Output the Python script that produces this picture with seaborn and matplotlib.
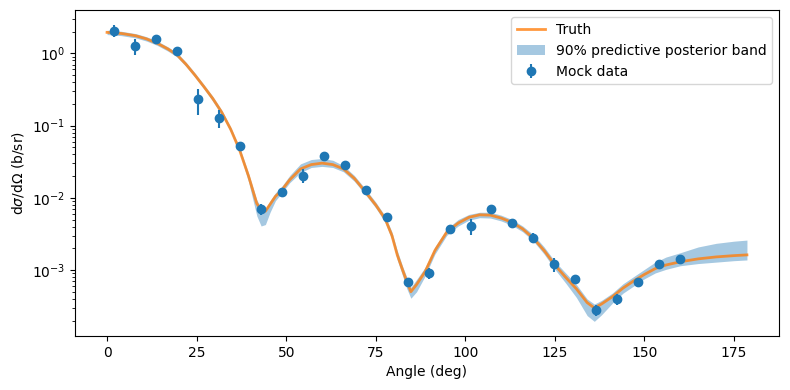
import numpy as np
import pandas as pd
import seaborn as sns
import matplotlib
matplotlib.use("Agg")
import matplotlib.pyplot as plt

# mock data (angle in deg, cross section in b/sr, 1-sigma error)
angle_data = [2.0, 7.9, 13.7, 19.6, 25.4, 31.3, 37.1, 43.0, 48.8, 54.7, 60.5, 66.4, 72.2, 78.1,
              83.9, 89.8, 95.6, 101.5, 107.3, 113.1, 119.0, 124.8, 130.7, 136.5, 142.4, 148.2, 154.1, 159.9]
xs_data = [2.07, 1.27, 1.57, 1.07, 0.231, 0.127, 0.052, 0.0070, 0.0122, 0.0203, 0.0377, 0.0283, 0.0130, 0.0054,
           6.9e-4, 9.1e-4, 3.73e-3, 4.02e-3, 6.92e-3, 4.53e-3, 2.80e-3, 1.22e-3, 7.55e-4, 2.8e-4,
           3.98e-4, 6.86e-4, 1.23e-3, 1.43e-3]
err_data = [0.4, 0.32, 0.15, 0.1, 0.09, 0.035, 0.006, 0.0012, 0.0015, 0.0045, 0.004, 0.003, 0.0015, 0.0005,
            0.8e-4, 1.5e-4, 0.5e-3, 1.0e-3, 0.7e-3, 0.6e-3, 0.45e-3, 0.27e-3, 0.5e-4, 0.5e-4,
            0.7e-4, 1.0e-4, 1.0e-4, 2.0e-4]

# truth curve and 90% band, stored as log10 of the cross section
angle_curve = [0, 4, 8, 11, 14, 17, 19.5, 22, 24.5, 27, 29.5, 32, 34.5, 37, 39.5, 41.8, 43, 44.2, 45.5, 47,
               48.5, 51, 54, 57, 60, 63, 66, 69, 72, 75, 77.6, 79.5, 81, 82.5, 83.6, 84.8, 86.4, 88.8, 91.5,
               94.8, 98, 101, 104, 107, 110, 113, 116, 119, 122, 125, 128, 131, 134, 136, 138, 141, 144, 147,
               150, 153, 156, 160, 165, 170, 175, 178.6]
truth_log = [0.29, 0.275, 0.243, 0.2, 0.14, 0.06, -0.02, -0.15, -0.30, -0.46, -0.625, -0.815, -1.05, -1.34,
             -1.70, -2.08, -2.16, -2.185, -2.09, -1.98, -1.91, -1.75, -1.60, -1.54, -1.52, -1.54, -1.60,
             -1.73, -1.91, -2.10, -2.29, -2.52, -2.79, -3.0, -3.15, -3.30, -3.2, -3.02, -2.73, -2.475,
             -2.35, -2.27, -2.235, -2.24, -2.28, -2.34, -2.43, -2.56, -2.73, -2.93, -3.10, -3.26, -3.45,
             -3.525, -3.47, -3.37, -3.25, -3.15, -3.06, -2.98, -2.93, -2.885, -2.845, -2.818, -2.80, -2.79]
band_lo_log = [0.26, 0.245, 0.213, 0.17, 0.11, 0.03, -0.05, -0.18, -0.33, -0.49, -0.665, -0.855, -1.09, -1.38,
               -1.78, -2.25, -2.39, -2.37, -2.2, -2.04, -1.95, -1.79, -1.65, -1.58, -1.565, -1.58, -1.64,
               -1.77, -1.95, -2.14, -2.34, -2.58, -2.86, -3.08, -3.25, -3.39, -3.3, -3.08, -2.78, -2.52,
               -2.39, -2.31, -2.275, -2.28, -2.32, -2.38, -2.47, -2.60, -2.78, -2.99, -3.18, -3.38, -3.63,
               -3.71, -3.62, -3.46, -3.32, -3.22, -3.12, -3.04, -2.99, -2.94, -2.91, -2.89, -2.87, -2.86]
band_hi_log = [0.32, 0.305, 0.273, 0.23, 0.17, 0.09, 0.01, -0.12, -0.27, -0.43, -0.595, -0.785, -1.02, -1.30,
               -1.66, -2.03, -2.13, -2.15, -2.04, -1.93, -1.86, -1.69, -1.53, -1.47, -1.455, -1.48, -1.555,
               -1.69, -1.87, -2.06, -2.25, -2.47, -2.73, -2.95, -3.09, -3.24, -3.13, -2.96, -2.68, -2.43,
               -2.30, -2.23, -2.20, -2.20, -2.24, -2.30, -2.39, -2.51, -2.68, -2.88, -3.04, -3.20, -3.40,
               -3.47, -3.42, -3.32, -3.19, -3.09, -2.99, -2.89, -2.82, -2.76, -2.68, -2.63, -2.60, -2.585]

curve = pd.DataFrame({
    "angle": angle_curve,
    "truth": 10 ** np.array(truth_log),
    "lo": 10 ** np.array(band_lo_log),
    "hi": 10 ** np.array(band_hi_log),
})

fig, ax = plt.subplots(figsize=(7.9, 3.9), dpi=100)

ax.fill_between(curve["angle"], curve["lo"], curve["hi"], color="C0", alpha=0.4, linewidth=0,
                label="90% predictive posterior band")
sns.lineplot(data=curve, x="angle", y="truth", ax=ax, color="C1", alpha=0.8, linewidth=2, label="Truth")
ax.errorbar(angle_data, xs_data, yerr=err_data, fmt="o", color="C0", label="Mock data")

ax.set_yscale("log")
ax.set_xlabel("Angle (deg)")
ax.set_ylabel(r"d$\sigma$/d$\Omega$ (b/sr)")
handles, labels = ax.get_legend_handles_labels()
order = [labels.index(l) for l in ["Truth", "90% predictive posterior band", "Mock data"]]
ax.legend([handles[i] for i in order], [labels[i] for i in order], loc="upper right")

fig.subplots_adjust(left=0.095, right=0.986, top=0.974, bottom=0.138)
plt.savefig("out.png", dpi=100)
